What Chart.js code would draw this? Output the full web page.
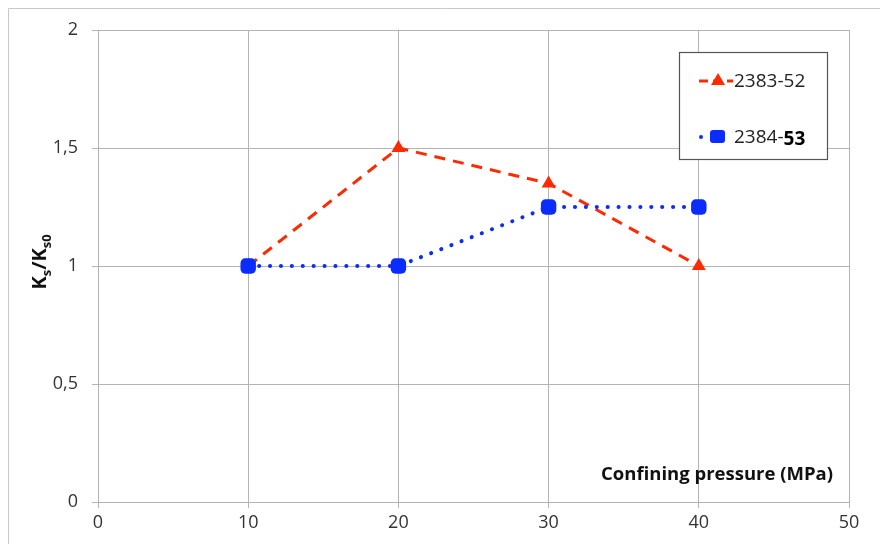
<!DOCTYPE html>
<html>
<head>
<meta charset="utf-8">
<script src="https://cdn.jsdelivr.net/npm/chart.js@4/dist/chart.umd.min.js"></script>
<style>
  html, body { margin: 0; padding: 0; background: #fff; }
  #wrap { width: 880px; height: 544px; position: relative; }
</style>
</head>
<body>
<div id="wrap"><canvas id="chart" width="880" height="544"></canvas></div>
<script>
const pressure = [10, 20, 30, 40];
const series1 = [1, 1.5, 1.35, 1];
const series2 = [1, 1, 1.25, 1.25];
const seriesNames = ["2383-52", "2384-53"];
const xTicks = [0, 10, 20, 30, 40, 50];
const yTicks = [0, 0.5, 1, 1.5, 2];

const RED = "#ff2a00";
const BLUE = "#0a2cff";
const FONT = "'Open Sans', 'Liberation Sans', sans-serif";

// frame, axis titles and legend box
const decor = {
  id: "decor",
  afterDraw(chart) {
    const c = chart.ctx;
    c.save();
    c.strokeStyle = "#c8c8c8";
    c.lineWidth = 1;
    c.beginPath();
    c.moveTo(8.5, 544);
    c.lineTo(8.5, 8.5);
    c.lineTo(880, 8.5);
    c.stroke();

    // y title K_s/K_s0
    c.translate(40, 262);
    c.rotate(-Math.PI / 2);
    c.fillStyle = "#111";
    c.textBaseline = "alphabetic";
    const big = "bold 20px " + FONT;
    const small = "bold 13px " + FONT;
    const parts = [["K", big, 0], ["s", small, 5], ["/K", big, 0], ["s0", small, 5]];
    let w = 0;
    parts.forEach(p => { c.font = p[1]; w += c.measureText(p[0]).width; });
    let x = -w / 2;
    parts.forEach(p => {
      c.font = p[1];
      c.fillText(p[0], x, 6 + p[2]);
      x += c.measureText(p[0]).width;
    });
    c.setTransform(1, 0, 0, 1, 0, 0);

    // x title inside plot
    c.font = "bold 18.5px " + FONT;
    c.fillStyle = "#111";
    c.textAlign = "right";
    c.textBaseline = "middle";
    c.fillText("Confining pressure (MPa)", 833, 475);

    // legend
    const lx = 679.5, ly = 52.5, lw = 148, lh = 107;
    c.fillStyle = "#fff";
    c.fillRect(lx, ly, lw, lh);
    c.strokeStyle = "#555";
    c.lineWidth = 1.2;
    c.strokeRect(lx, ly, lw, lh);

    c.textAlign = "left";
    c.textBaseline = "middle";
    // entry 1
    const y1 = 81;
    c.strokeStyle = RED;
    c.lineWidth = 3;
    c.setLineDash([9, 5]);
    c.beginPath();
    c.moveTo(699, y1);
    c.lineTo(733, y1);
    c.stroke();
    c.setLineDash([]);
    c.fillStyle = RED;
    c.beginPath();
    c.moveTo(718, y1 - 8);
    c.lineTo(725, y1 + 4);
    c.lineTo(711, y1 + 4);
    c.closePath();
    c.fill();
    c.fillStyle = "#222";
    c.font = "19px " + FONT;
    c.fillText(seriesNames[0], 734, y1 + 1);

    // entry 2
    const y2 = 137;
    c.fillStyle = BLUE;
    c.beginPath();
    c.arc(701, y2, 2, 0, Math.PI * 2);
    c.fill();
    c.beginPath();
    c.roundRect(710, y2 - 7, 15, 13, 3);
    c.fill();
    c.fillStyle = "#222";
    c.font = "19px " + FONT;
    const pre = seriesNames[1].split("-")[0] + "-";
    c.fillText(pre, 734, y2 + 1);
    const pw = c.measureText(pre).width;
    c.font = "bold 19px " + FONT;
    c.fillStyle = "#000";
    c.fillText(seriesNames[1].split("-")[1], 734 + pw, y2 + 3);
    c.restore();
  }
};

new Chart(document.getElementById("chart"), {
  type: "line",
  data: {
    datasets: [
      {
        label: seriesNames[0],
        data: pressure.map((p, i) => ({ x: p, y: series1[i] })),
        borderColor: RED,
        backgroundColor: RED,
        borderWidth: 3,
        borderDash: [11, 8],
        pointStyle: "triangle",
        pointRadius: 8,
        pointBorderWidth: 0,
        tension: 0,
        order: 2
      },
      {
        label: seriesNames[1],
        data: pressure.map((p, i) => ({ x: p, y: series2[i] })),
        borderColor: BLUE,
        backgroundColor: BLUE,
        borderWidth: 4,
        borderDash: [0.1, 10.8],
        borderCapStyle: "round",
        pointStyle: "rectRounded",
        pointRadius: 9,
        pointBorderWidth: 0,
        tension: 0,
        order: 1
      }
    ]
  },
  options: {
    responsive: false,
    animation: false,
    devicePixelRatio: 1,
    layout: { padding: { top: 30, right: 31, left: 0, bottom: 0 } },
    plugins: { legend: { display: false }, tooltip: { enabled: false } },
    scales: {
      x: {
        type: "linear",
        min: 0, max: 50,
        afterBuildTicks: s => { s.ticks = xTicks.map(v => ({ value: v })); },
        afterFit: s => { s.height = 42; },
        grid: { color: "#b4b4b4", lineWidth: 1, tickLength: 6, drawTicks: true },
        border: { color: "#b4b4b4" },
        ticks: { color: "#333", font: { family: FONT, size: 18 }, padding: 4, maxRotation: 0 }
      },
      y: {
        min: 0, max: 2,
        afterBuildTicks: s => { s.ticks = yTicks.map(v => ({ value: v })); },
        afterFit: s => { s.width = 98; },
        grid: { color: "#b4b4b4", lineWidth: 1, tickLength: 6, drawTicks: true },
        border: { color: "#b4b4b4" },
        ticks: {
          color: "#333",
          font: { family: FONT, size: 18 },
          padding: 14,
          callback: v => String(v).replace(".", ",")
        }
      }
    }
  },
  plugins: [decor]
});
</script>
</body>
</html>
